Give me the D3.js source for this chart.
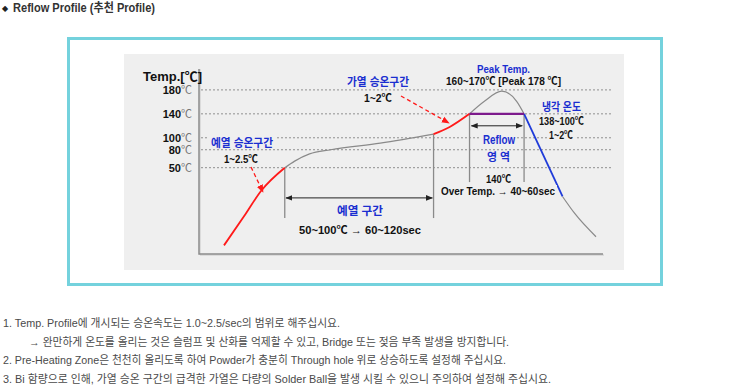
<!DOCTYPE html>
<html>
<head>
<meta charset="utf-8">
<script src="https://cdn.jsdelivr.net/npm/d3@7"></script>
<style>
  body { margin: 0; background: #fff; }
  svg { display: block; }
</style>
</head>
<body>
<svg id="chart" width="735" height="392"></svg>
<script>
// temperature ticks (°C)
const yTicks = [50, 80, 100, 140, 180];

// profile segments: [time (sec), temp (°C)]
const preheatRamp = [[0, 23], [16, 33], [30, 42], [49, 50]];
const soakZone = [[49, 50], [57, 61], [69, 73], [86, 80], [126, 91], [169, 106]];
const reflowRamp = [[169, 106], [182, 118], [198, 140]];
const peakZone = [[198, 140], [210, 161], [224, 178], [236, 161], [242, 140]];
const cooling = [[242, 140], [273, 40]];
const coolTail = [[273, 40], [283, 34], [300, 26]];
const reflowLevel = [[198, 140], [242, 140]];

const noteLines = [
    "1. Temp. Profile에 개시되는 승온속도는 1.0~2.5/sec의 범위로 해주십시요.",
    "→ 완만하게 온도를 올리는 것은 슬럼프 및 산화를 억제할 수 있고,  Bridge 또는 젖음 부족 발생을 방지합니다.",
    "2. Pre-Heating Zone은 천천히 올리도록 하여 Powder가 충분히 Through hole 위로 상승하도록 설정해 주십시요.",
    "3. Bi 함량으로 인해, 가열 승온 구간의 급격한 가열은 다량의 Solder Ball을 발생 시킬 수 있으니 주의하여 설정해 주십시요."
];

const RED = "#ff1a1a";
const BLUE = "#1f3bd9";
const GREY = "#8a8a8a";
const LABEL_BLUE = "#1a2ed0";
const PANEL = "#efefef";
const FONT = "'Liberation Sans Narrow', 'Liberation Sans', 'Noto Sans CJK KR', sans-serif";

const svg = d3.select("#chart");

let xscale = d3.scaleLinear()
            .domain([0, 300])
            .range([224, 596]);

let yscale = d3.scaleLinear()
            .domain([20, 50, 180])
            .range([254, 167.7, 89.9]);

function main() {
    drawTitle();
    drawFrame();
    drawGrid();
    drawGuides();
    drawCurve();
    drawLabels();
    drawNotes();
}

function drawTitle() {
    svg.append("text")
        .attr("x", 2).attr("y", 11)
        .style("font-size", "8px")
        .style("fill", "#222")
        .text("◆");
    svg.append("text")
        .attr("x", 13)
        .attr("y", 12)
        .attr("textLength", 142)
        .attr("lengthAdjust", "spacingAndGlyphs")
        .style("font-family", FONT)
        .style("font-size", "12px")
        .style("font-weight", "bold")
        .style("fill", "#333")
        .text("Reflow Profile (추천 Profile)");
}

function drawFrame() {
    svg.append("rect")
        .attr("x", 68.5).attr("y", 38.5)
        .attr("width", 593).attr("height", 246)
        .attr("fill", "none")
        .attr("stroke", "#74d2dd")
        .attr("stroke-width", 3);
    svg.append("rect")
        .attr("x", 124).attr("y", 54)
        .attr("width", 500).attr("height", 216)
        .attr("fill", PANEL);

    // axes
    svg.append("line")
        .attr("x1", 200).attr("y1", 69).attr("x2", 200).attr("y2", 255)
        .attr("stroke", "#c8c8c8").attr("stroke-width", 1);
    svg.append("line")
        .attr("x1", 200).attr("y1", 255).attr("x2", 604).attr("y2", 255)
        .attr("stroke", "#c8c8c8").attr("stroke-width", 1);
    svg.append("path")
        .attr("d", "M199,69V254H603")
        .attr("fill", "none")
        .attr("stroke", "#8c8c8c")
        .attr("stroke-width", 1.5);

    svg.append("text")
        .attr("x", 143).attr("y", 81)
        .style("font-family", FONT)
        .style("font-size", "13px")
        .style("font-weight", "bold")
        .style("fill", "#111")
        .text("Temp.[℃]");
}

function drawGrid() {
    svg.selectAll(".grid").data(yTicks).join("line")
        .attr("class", "grid")
        .attr("x1", 201).attr("x2", 612)
        .attr("y1", d => yscale(d)).attr("y2", d => yscale(d))
        .attr("stroke", "#8f8f8f")
        .attr("stroke-width", 1)
        .attr("stroke-dasharray", "2,2");

    const tick = svg.selectAll(".ytick").data(yTicks).join("text")
        .attr("class", "ytick")
        .attr("x", 192)
        .attr("y", d => yscale(d) + 4)
        .attr("text-anchor", "end")
        .style("font-family", FONT)
        .style("font-size", "11px");
    tick.append("tspan").style("font-weight", "bold").style("fill", "#111").text(d => d);
    tick.append("tspan").style("fill", "#777").text("℃");
}

function addArrowMarkers() {
    const defs = svg.append("defs");
    const mk = (id, color, w) => defs.append("marker")
        .attr("id", id)
        .attr("viewBox", "0 0 10 10")
        .attr("refX", 9).attr("refY", 5)
        .attr("markerWidth", w).attr("markerHeight", w)
        .attr("markerUnits", "userSpaceOnUse")
        .attr("orient", "auto-start-reverse")
        .append("path")
        .attr("d", "M0,1L10,5L0,9Z")
        .attr("fill", color);
    mk("arrowDark", "#222", 7);
    mk("arrowRed", RED, 8);
}

function drawGuides() {
    addArrowMarkers();
    const guides = [
        {t: 49, top: 50, bottom: 32.5},
        {t: 169, top: 106, bottom: 32.5},
        {t: 198, top: 140, bottom: 45},
        {t: 242, top: 140, bottom: 45}
    ];
    svg.selectAll(".guide").data(guides).join("line")
        .attr("class", "guide")
        .attr("x1", d => xscale(d.t)).attr("x2", d => xscale(d.t))
        .attr("y1", d => yscale(d.top)).attr("y2", d => yscale(d.bottom))
        .attr("stroke", "#8a8a8a")
        .attr("stroke-width", 1.3);

    const spans = [
        {t0: 50, t1: 168, temp: 39.5},
        {t0: 199.5, t1: 240.5, temp: 120}
    ];
    svg.selectAll(".span").data(spans).join("line")
        .attr("class", "span")
        .attr("x1", d => xscale(d.t0)).attr("x2", d => xscale(d.t1))
        .attr("y1", d => yscale(d.temp)).attr("y2", d => yscale(d.temp))
        .attr("stroke", "#222")
        .attr("stroke-width", 1)
        .attr("marker-start", "url(#arrowDark)")
        .attr("marker-end", "url(#arrowDark)");
}

function drawCurve() {
    const line = d3.line()
        .x(d => xscale(d[0]))
        .y(d => yscale(d[1]))
        .curve(d3.curveMonotoneX);
    const segments = [
        {pts: soakZone, color: GREY, w: 1.2},
        {pts: peakZone, color: GREY, w: 1.2},
        {pts: coolTail, color: GREY, w: 1.2},
        {pts: preheatRamp, color: RED, w: 1.8},
        {pts: reflowRamp, color: RED, w: 1.8},
        {pts: cooling, color: BLUE, w: 1.8},
        {pts: reflowLevel, color: "#7d1a8c", w: 2.2}
    ];
    svg.selectAll(".seg").data(segments).join("path")
        .attr("class", "seg")
        .attr("d", d => line(d.pts))
        .attr("fill", "none")
        .attr("stroke", d => d.color)
        .attr("stroke-width", d => d.w);
}

function drawLabels() {
    // label boxes: x0, x1 extent and vertical centre
    const labels = [
        {text: "예열 승온구간", x0: 211, x1: 273, cy: 143, c: LABEL_BLUE, s: 11},
        {text: "1~2.5℃", x0: 224, x1: 258, cy: 159, c: "#111", s: 11},
        {text: "가열 승온구간", x0: 347, x1: 409, cy: 82, c: LABEL_BLUE, s: 11},
        {text: "1~2℃", x0: 364, x1: 392, cy: 98, c: "#111", s: 11},
        {text: "Peak Temp.", x0: 477, x1: 530, cy: 69, c: LABEL_BLUE, s: 11},
        {text: "160~170℃ [Peak 178 ℃]", x0: 446, x1: 561, cy: 81, c: "#111", s: 11},
        {text: "냉각 온도", x0: 542, x1: 581, cy: 107, c: LABEL_BLUE, s: 11},
        {text: "138~100℃", x0: 539, x1: 584, cy: 121, c: "#111", s: 11},
        {text: "1~2℃", x0: 549, x1: 573, cy: 135, c: "#111", s: 11},
        {text: "Reflow", x0: 483, x1: 515, cy: 139, c: LABEL_BLUE, s: 12.5},
        {text: "영 역", x0: 487, x1: 510, cy: 157, c: LABEL_BLUE, s: 11},
        {text: "140℃", x0: 486, x1: 511, cy: 179, c: "#111", s: 11},
        {text: "Over Temp. → 40~60sec", x0: 441, x1: 555, cy: 191, c: "#111", s: 11},
        {text: "예열 구간", x0: 337, x1: 383, cy: 211, c: LABEL_BLUE, s: 11.5},
        {text: "50~100℃ → 60~120sec", x0: 299, x1: 421, cy: 230, c: "#111", s: 11.5}
    ];

    svg.selectAll(".lblbg").data(labels).join("rect")
        .attr("class", "lblbg")
        .attr("x", d => d.x0 - 2).attr("y", d => d.cy - 6)
        .attr("width", d => d.x1 - d.x0 + 4).attr("height", 12)
        .attr("fill", PANEL);

    svg.selectAll(".lbl").data(labels).join("text")
        .attr("class", "lbl")
        .attr("x", d => d.x0)
        .attr("y", d => d.cy + d.s * 0.36)
        .attr("textLength", d => d.x1 - d.x0)
        .attr("lengthAdjust", "spacingAndGlyphs")
        .style("font-family", FONT)
        .style("font-size", d => d.s + "px")
        .style("font-weight", "bold")
        .style("fill", d => d.c)
        .text(d => d.text);

    // dashed pointer arrows
    const pointers = [
        {x1: 251, y1: 167, x2: 263, y2: 192},
        {x1: 401, y1: 96, x2: 449, y2: 123}
    ];
    svg.selectAll(".ptr").data(pointers).join("line")
        .attr("class", "ptr")
        .attr("x1", d => d.x1).attr("y1", d => d.y1)
        .attr("x2", d => d.x2).attr("y2", d => d.y2)
        .attr("stroke", RED)
        .attr("stroke-width", 1.3)
        .attr("stroke-dasharray", "4,3")
        .attr("marker-end", "url(#arrowRed)");
}

function drawNotes() {
    const starts = [3, 29, 3, 3];
    const ends = [340, 509, 506, 551];
    svg.selectAll(".note").data(noteLines).join("text")
        .attr("class", "note")
        .attr("x", (d, i) => starts[i])
        .attr("y", (d, i) => 327 + i * 18.5)
        .attr("textLength", (d, i) => ends[i] - starts[i])
        .attr("lengthAdjust", "spacingAndGlyphs")
        .style("font-family", FONT)
        .style("font-size", "11.5px")
        .style("fill", "#4a4a4a")
        .text(d => d);
}

main();
</script>
</body>
</html>
